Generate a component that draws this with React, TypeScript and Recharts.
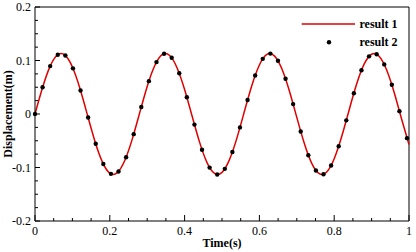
import React from 'react';
import { LineChart, Line, XAxis, YAxis, ReferenceLine, Legend } from 'recharts';

// ---- data ----
const lineTimes = [
  0, 0.02, 0.04, 0.06, 0.08, 0.1, 0.12, 0.14, 0.16, 0.18,
  0.2, 0.22, 0.24, 0.26, 0.28, 0.3, 0.32, 0.34, 0.36, 0.38,
  0.4, 0.42, 0.44, 0.46, 0.48, 0.5, 0.52, 0.54, 0.56, 0.58,
  0.6, 0.62, 0.64, 0.66, 0.68, 0.7, 0.72, 0.74, 0.76, 0.78,
  0.8, 0.82, 0.84, 0.86, 0.88, 0.9, 0.92, 0.94, 0.96, 0.98, 1,
];
const lineDisp = [
  0, 0.049, 0.0886, 0.1103, 0.11, 0.0878, 0.048, -0.0013, -0.0503, -0.0894,
  -0.1106, -0.1097, -0.087, -0.0469, 0.0025, 0.0515, 0.0901, 0.1108, 0.1094, 0.0861,
  0.0457, -0.0038, -0.0526, -0.0909, -0.1111, -0.1091, -0.0853, -0.0446, 0.0051, 0.0537,
  0.0916, 0.1113, 0.1087, 0.0845, 0.0434, -0.0064, -0.0548, -0.0924, -0.1115, -0.1084,
  -0.0836, -0.0422, 0.0076, 0.0559, 0.0931, 0.1117, 0.108, 0.0827, 0.041, -0.0089, -0.0571,
];
const dotTimes = [
  0, 0.0203, 0.0406, 0.0609, 0.0812, 0.1015, 0.1218, 0.1421, 0.1624, 0.1827,
  0.203, 0.2233, 0.2436, 0.2639, 0.2842, 0.3045, 0.3248, 0.3451, 0.3654, 0.3857,
  0.406, 0.4263, 0.4466, 0.4669, 0.4872, 0.5075, 0.5278, 0.5481, 0.5684, 0.5887,
  0.609, 0.6293, 0.6496, 0.6699, 0.6902, 0.7105, 0.7308, 0.7511, 0.7714, 0.7917,
  0.812, 0.8323, 0.8526, 0.8729, 0.8932, 0.9135, 0.9338, 0.9541, 0.9744, 0.9947,
];
const dotDisp = [
  0, 0.0499, 0.0895, 0.1108, 0.1093, 0.0853, 0.0439, -0.0066, -0.0557, -0.0934,
  -0.1119, -0.1074, -0.0808, -0.0377, 0.0132, 0.0614, 0.097, 0.1126, 0.1051, 0.0761,
  0.0314, -0.0198, -0.0668, -0.1002, -0.113, -0.1025, -0.0711, -0.025, 0.0262, 0.0721,
  0.1031, 0.1129, 0.0996, 0.0658, 0.0185, -0.0326, -0.077, -0.1056, -0.1125, -0.0963,
  -0.0603, -0.0119, 0.0389, 0.0818, 0.1078, 0.1117, 0.0927, 0.0546, 0.0053, -0.0451,
];

const xTicks = [
  0, 0.05, 0.1, 0.15, 0.2, 0.25, 0.3, 0.35, 0.4, 0.45, 0.5,
  0.55, 0.6, 0.65, 0.7, 0.75, 0.8, 0.85, 0.9, 0.95, 1,
];
const xLabelValues = [0, 0.2, 0.4, 0.6, 0.8, 1];
const xTickLabels = ['0', '0.2', '0.4', '0.6', '0.8', '1'];
const yTicks = [
  -0.2, -0.175, -0.15, -0.125, -0.1, -0.075, -0.05, -0.025, 0,
  0.025, 0.05, 0.075, 0.1, 0.125, 0.15, 0.175, 0.2,
];
const yLabelValues = [-0.2, -0.1, 0, 0.1, 0.2];
const yTickLabels = ['-0.2', '-0.1', '0', '0.1', '0.2'];

const seriesNames = ['result 1', 'result 2'];
const xTitle = 'Time(s)';
const yTitle = 'Displacement(m)';

// ---- styling ----
const FONT = '"Times New Roman", "Liberation Serif", serif';
const RED = '#e00000';
const W = 416;
const H = 252;
const PLOT_LEFT = 35;
const PLOT_TOP = 7;
const PLOT_RIGHT = 409;
const PLOT_BOTTOM = 221;

const lineData = lineTimes.map((t, i) => ({ t, v: lineDisp[i] }));
const dotData = dotTimes.map((t, i) => ({ t, v: dotDisp[i] }));

const findLabel = (v: number, values: number[], labels: string[]) => {
  const idx = values.findIndex((m) => Math.abs(m - v) < 1e-9);
  return idx >= 0 ? labels[idx] : null;
};

const XTick = (props: any) => {
  const { x, payload } = props;
  const label = findLabel(payload.value, xLabelValues, xTickLabels);
  const len = label !== null ? 6 : 3;
  return (
    <g>
      <line x1={x} x2={x} y1={PLOT_BOTTOM} y2={PLOT_BOTTOM - len} stroke="#000" strokeWidth={1} />
      {label !== null && (
        <text x={x} y={234.5} textAnchor="middle" fontFamily={FONT} fontSize={12} fill="#000">
          {label}
        </text>
      )}
    </g>
  );
};

const YTick = (props: any) => {
  const { y, payload } = props;
  const label = findLabel(payload.value, yLabelValues, yTickLabels);
  const len = label !== null ? 5 : 3;
  return (
    <g>
      <line x1={PLOT_LEFT} x2={PLOT_LEFT + len} y1={y} y2={y} stroke="#000" strokeWidth={1} />
      {label !== null && (
        <text x={31} y={y + 4.2} textAnchor="end" fontFamily={FONT} fontSize={12} fill="#000">
          {label}
        </text>
      )}
    </g>
  );
};

const LegendContent = () => (
  <svg width={120} height={40} style={{ display: 'block', overflow: 'visible' }}>
    <line x1={5.7} x2={59} y1={10} y2={10} stroke={RED} strokeWidth={1.5} />
    <text x={63.5} y={14} fontFamily={FONT} fontSize={12} fontWeight="bold" fill="#000">
      {seriesNames[0]}
    </text>
    <circle cx={33} cy={28.3} r={2.2} fill="#000" />
    <text x={63.5} y={32.3} fontFamily={FONT} fontSize={12} fontWeight="bold" fill="#000">
      {seriesNames[1]}
    </text>
  </svg>
);

export default function App() {
  return (
    <div style={{ position: 'absolute', left: 0, top: 0, width: W, height: H, background: '#fff' }}>
      <LineChart
        width={W}
        height={H}
        margin={{ top: PLOT_TOP, right: W - PLOT_RIGHT, bottom: 0, left: 0 }}
      >
        <XAxis
          dataKey="t"
          type="number"
          domain={[0, 1]}
          ticks={xTicks}
          interval={0}
          height={H - PLOT_BOTTOM}
          axisLine={{ stroke: '#000', strokeWidth: 1 }}
          tickLine={false}
          tick={<XTick />}
          allowDuplicatedCategory={false}
          label={{
            content: () => (
              <text
                x={(PLOT_LEFT + PLOT_RIGHT) / 2}
                y={246.5}
                textAnchor="middle"
                fontFamily={FONT}
                fontSize={12}
                fontWeight="bold"
                fill="#000"
              >
                {xTitle}
              </text>
            ),
          }}
        />
        <YAxis
          dataKey="v"
          type="number"
          domain={[-0.2, 0.2]}
          ticks={yTicks}
          interval={0}
          width={PLOT_LEFT}
          axisLine={{ stroke: '#000', strokeWidth: 1 }}
          tickLine={false}
          tick={<YTick />}
          label={{
            content: () => (
              <text
                x={11.5}
                y={114}
                transform="rotate(-90 11.5 114)"
                textAnchor="middle"
                fontFamily={FONT}
                fontSize={12}
                fontWeight="bold"
                fill="#000"
              >
                {yTitle}
              </text>
            ),
          }}
        />
        <ReferenceLine y={0.2} stroke="#000" strokeWidth={1} />
        <ReferenceLine x={1} stroke="#000" strokeWidth={1} />
        <Legend
          layout="horizontal"
          verticalAlign="middle"
          align="center"
          content={<LegendContent />}
          wrapperStyle={{ position: 'absolute', left: 296, top: 14, width: 120, height: 40 }}
        />
        <Line
          data={lineData}
          dataKey="v"
          name={seriesNames[0]}
          type="natural"
          stroke={RED}
          strokeWidth={1.5}
          dot={false}
          activeDot={false}
          isAnimationActive={false}
        />
        <Line
          data={dotData}
          dataKey="v"
          name={seriesNames[1]}
          type="linear"
          stroke="none"
          dot={{ r: 2.2, fill: '#000', stroke: 'none' }}
          activeDot={false}
          isAnimationActive={false}
        />
      </LineChart>
    </div>
  );
}
